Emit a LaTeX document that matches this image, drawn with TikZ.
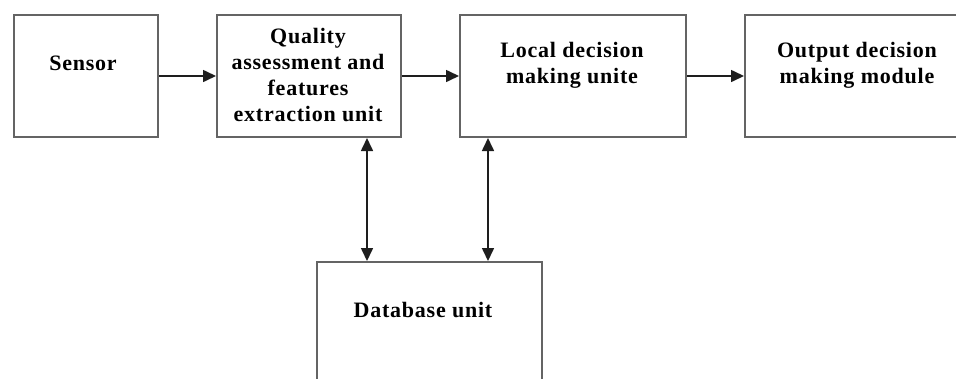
\documentclass[tikz,border=0pt]{standalone}
\usepackage{fontspec}
\setmainfont[LetterSpace=3.5]{Liberation Serif}
\usetikzlibrary{arrows.meta,positioning,calc}
\definecolor{boxline}{RGB}{100,100,100}
\definecolor{arrline}{RGB}{30,30,30}

\begin{document}
\begin{tikzpicture}[x=1pt,y=-1pt,
  font=\fontsize{22}{26}\selectfont\bfseries,
  block/.style={draw=boxline,line width=2pt,rectangle,inner sep=0pt,anchor=north west},
  txt/.style={align=center,inner sep=0pt},
  arr/.style={draw=arrline,line width=1.6pt,-{Triangle[length=13pt,width=12pt]}},
  darr/.style={arr,{Triangle[length=13pt,width=12pt]}-{Triangle[length=13pt,width=12pt]}}]
\useasboundingbox (0,0) rectangle (956,378);
\clip (0,0) rectangle (956,378);
% top row of boxes
\node[block,minimum width=144pt,minimum height=122pt] (sensor) at (13,14) {};
\node[block,minimum width=184pt,minimum height=122pt] (quality) at (216,14) {};
\node[block,minimum width=226pt,minimum height=122pt] (local) at (459,14) {};
\node[block,minimum width=226pt,minimum height=122pt] (output) at (744,14) {};
% database box, runs past the lower edge
\node[block,minimum width=225pt,minimum height=150pt] (database) at (316,261) {};
% texts
\node[txt] (sensortxt) at (83,63) {Sensor};
\node[txt] (qualitytxt) at (308,75) {Quality\\assessment and\\features\\extraction unit};
\node[txt] (localtxt) at (572,65) {Local decision\\making unite};
\node[txt] (outputtxt) at (857,65) {Output decision\\making module};
\node[txt] (databasetxt) at (423,310) {Database unit};
% connectors
\draw[arr] (sensor) -- (quality);
\draw[arr] (quality) -- (local);
\draw[arr] (local) -- (output);
\draw[darr] ([xshift=-35pt]quality.south east) -- ([xshift=-35pt]quality.south east |- database.north);
\draw[darr] ([xshift=29pt]local.south west) -- ([xshift=29pt]local.south west |- database.north);
\end{tikzpicture}
\end{document}
